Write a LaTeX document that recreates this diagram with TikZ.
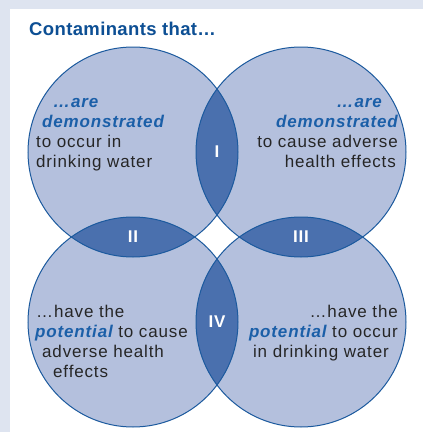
\documentclass[tikz,border=0pt]{standalone}
\usepackage{fontspec}
\setmainfont{Liberation Sans}
\newfontfamily\vennfont[LetterSpace=5]{Liberation Sans}
\newfontfamily\headfont[LetterSpace=2]{Liberation Sans}
\usetikzlibrary{calc,positioning}
\definecolor{pagebg}{HTML}{DEE4F0}
\definecolor{vennfill}{HTML}{B4C0DD}
\definecolor{lensfill}{HTML}{4A70AE}
\definecolor{vennline}{HTML}{1C5A9E}
\definecolor{titleblue}{HTML}{0D4F94}
\definecolor{emblue}{HTML}{1B5FA8}
\definecolor{bodytext}{HTML}{262626}
\newcommand{\vemph}[1]{\textcolor{emblue}{\bfseries\itshape #1}}
\tikzset{
  venn circle/.style={fill=vennfill},
  venn edge/.style={draw=vennline,line width=1pt},
  lens/.style={fill=lensfill},
  numeral/.style={text=white,inner sep=0pt,font=\vennfont\fontsize{17}{17}\selectfont\bfseries},
  blurb/.style={text=bodytext,inner sep=0pt,font=\vennfont\fontsize{17}{20}\selectfont}
}

\begin{document}
\begin{tikzpicture}[x=1pt,y=-1pt]

\fill[pagebg] (0,0) rectangle (423,432);
\fill[white] (10,9) rectangle (423,432);
\node[anchor=base west,inner sep=0pt,text=titleblue,font=\headfont\fontsize{18.5}{18.5}\selectfont\bfseries] (title) at (29,35) {Contaminants that…};

\coordinate (tl) at (133,152);
\coordinate (tr) at (301,152);
\coordinate (bl) at (133,322);
\coordinate (br) at (301,322);

\foreach \c in {tl,tr,bl,br}
  \fill[venn circle] (\c) circle (105pt);
\foreach \a/\b in {tl/tr,tl/bl,tr/br,bl/br}{
  \begin{scope}
    \clip (\a) circle (105pt);
    \fill[lens] (\b) circle (105pt);
  \end{scope}
}
\foreach \c in {tl,tr,bl,br}
  \draw[venn edge] (\c) circle (105pt);

\node[numeral] (one) at ($(tl)!.5!(tr)$) {I};
\node[numeral] (two) at ($(tl)!.5!(bl)$) {II};
\node[numeral] (three) at ($(tr)!.5!(br)$) {III};
\node[numeral] (four) at ($(bl)!.5!(br)$) {IV};

% base anchor sits on the last line
\node[blurb,align=left,anchor=base west] (occur) at (36,167)
  {\hspace*{17pt}\vemph{…are}\\\hspace*{6pt}\vemph{demonstrated}\\to occur in\\drinking water};
\node[blurb,align=right,anchor=base east] (harm) at (398,167)
  {\vemph{…are}\hspace*{16pt}\\\vemph{demonstrated}\hspace*{7pt}\\to cause adverse\\health effects\hspace*{2pt}};
\node[blurb,align=left,anchor=base west] (mayharm) at (35,377)
  {\hspace*{1pt}…have the\\\vemph{potential} to cause\\\hspace*{7pt}adverse health\\\hspace*{18pt}effects};
\node[blurb,align=right,anchor=base east] (mayoccur) at (398,357)
  {…have the\\\vemph{potential} to occur\\in drinking water\hspace*{9pt}};

\end{tikzpicture}
\end{document}
